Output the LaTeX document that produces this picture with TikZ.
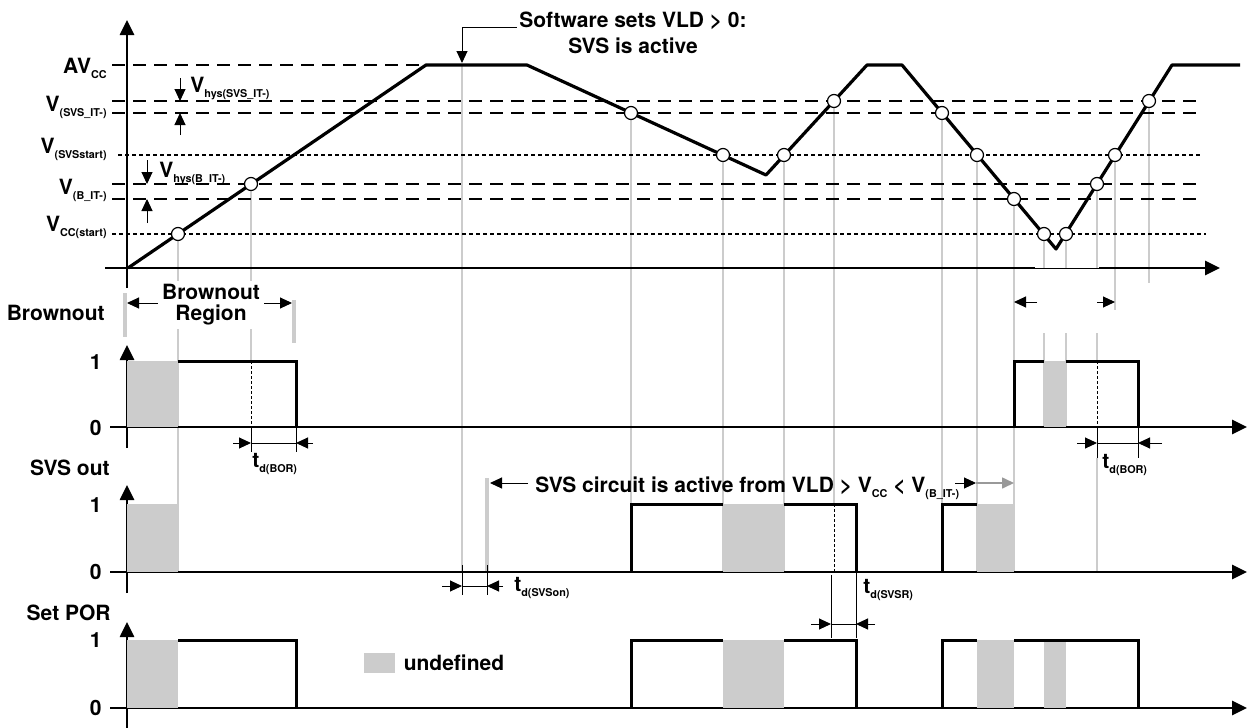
\documentclass[tikz,border=0pt]{standalone}
\usepackage{fontspec}
\setmainfont{TeX Gyre Heros}
\usetikzlibrary{arrows.meta,positioning}
\newcommand{\lsub}[1]{\raisebox{-0.45ex}{\fontsize{5.4}{6}\selectfont #1}}
\tikzset{
	-tri/.style={-{Triangle[length=6pt,width=5.5pt]}},
	-big/.style={-{Triangle[length=7.5pt,width=7pt]}},
	axis/.style={line width=1.3pt},
	wave/.style={line width=1.6pt,line join=round},
	sig/.style={line width=1.5pt},
	level/.style={line width=0.9pt,dash pattern=on 6.5pt off 4pt},
	fine/.style={line width=0.6pt,dash pattern=on 2pt off 1.5pt},
	guide/.style={draw=black!20,line width=1pt},
	undef/.style={fill=black!20},
	dot/.style={circle,draw,fill=white,inner sep=0pt,minimum size=6.5pt,line width=0.6pt},
	lbl/.style={font=\fontsize{10.5}{13}\selectfont\bfseries,inner sep=1pt},
	dim/.style={line width=0.5pt},
	tick/.style={line width=0.5pt,dash pattern=on 1.5pt off 1pt}
}
\begin{document}
\begin{tikzpicture}[x=0.5pt,y=-0.5pt]
\useasboundingbox (0,0) rectangle (1248,728);
% guides from the crossings
\foreach \x/\a/\b in {178/234/572, 251/184/361, 462/65/572, 631/113/572, 723/155/572,
    784/155/572, 834/101/504, 942/113/572, 977/155/572, 1014/199/572, 1044/234/268,
    1066/234/268, 1044/333/427, 1066/333/427, 1097/184/268, 1097/333/361, 1097/458/572,
    1115/155/310, 1149/101/283}
  \draw[guide] (\x,\a) -- (\x,\b);
\draw[guide,line width=1.8pt] (125,293) -- (125,337) (294,300) -- (294,343) (487,478) -- (487,572);

% thresholds
\draw[level] (112,65) -- (430,65);
\foreach \y in {101,113,184,199}
  \draw[level] (112,\y) -- (1202,\y);
\draw[fine] (118,155) -- (1203,155);
\draw[fine] (112,234) -- (1206,234);
\node[lbl,anchor=base east] (avcc) at (109,73) {AV\lsub{CC}};
\node[lbl,anchor=base east] (vsvs) at (109,111) {V\lsub{(SVS\_IT-)}};
\node[lbl,anchor=base east] (vsvsst) at (109,153) {V\lsub{(SVSstart)}};
\node[lbl,anchor=base east] (vbit) at (109,194) {V\lsub{(B\_IT-)}};
\node[lbl,anchor=base east] (vccst) at (109,231) {V\lsub{CC(start)}};
\draw[dim,-tri] (180,78) -- (180,101);
\draw[dim,-tri] (180,135) -- (180,113);
\node[lbl,anchor=base west] (hyssvs) at (188,92) {V\lsub{hys(SVS\_IT-)}};
\draw[dim,-tri] (147,160) -- (147,184);
\draw[dim,-tri] (147,223) -- (147,199);
\node[lbl,anchor=base west] (hysb) at (157,177) {V\lsub{hys(B\_IT-)}};

% supply voltage
\draw[axis,-big] (127,288) -- (127,20);
\draw[axis] (105,268) -- (1035,268);
\draw[dim] (1035,268) -- (1099,268);
\draw[axis,-big] (1099,268) -- (1220,268);
\draw[wave] (128,268) -- (426,65) -- (527,65) -- (766,175) -- (867,65) -- (902,65)
  -- (1056,249) -- (1172,65) -- (1240,65);
\foreach \x/\y [count=\i] in {178/234, 251/184, 631/113, 723/155, 784/155, 834/101,
    942/113, 977/155, 1014/199, 1044/234, 1066/234, 1097/184, 1115/155, 1149/101}
  \node[dot] (c\i) at (\x,\y) {};
\node[lbl,align=center] (sw) at (633,33) {Software sets VLD > 0:\\SVS is active};
\coordinate (swk) at (462,27);
\draw[dim,-tri] (sw.west |- swk) -- (swk) -- (462,63);

% Brownout
\draw[dim,-tri] (210,303) -- (127,303);
\draw[dim,-tri] (210,303) -- (292,303);
\node[lbl,align=center,fill=white,inner sep=2pt,font=\fontsize{10.5}{10.5}\selectfont\bfseries] (bor) at (211,305) {Brownout\\Region};
\draw[dim,-tri] (1037,302) -- (1014,302);
\draw[dim,-tri] (1097,302) -- (1115,302);
\node[lbl,anchor=base east] (brn) at (107,320) {Brownout};
\draw[axis,-big] (127,448) -- (127,345);
\draw[axis,-big] (110,427) -- (1247,427);
\node[lbl,anchor=east] (b1) at (104,362) {1};
\node[lbl,anchor=east] (b0) at (104,428) {0};
\fill[undef] (127,361) rectangle (178,427);
\draw[sig] (178,361) -- (296,361) -- (296,427);
\draw[tick] (251,361) -- (251,427);
\draw[dim] (251,427) -- (251,452) (296,427) -- (296,452) (251,443) -- (296,443);
\draw[dim,-tri] (233,443) -- (251,443);
\draw[dim,-tri] (313,443) -- (296,443);
\node[lbl,anchor=base west] (tbor) at (250,467) {t\lsub{d(BOR)}};
\fill[undef] (1044,361) rectangle (1066,427);
\draw[sig] (1014,427) -- (1014,361) -- (1044,361) (1066,361) -- (1138,361) -- (1138,427);
\draw[tick] (1097,361) -- (1097,427);
\draw[dim] (1097,427) -- (1097,458) (1138,427) -- (1138,458) (1097,443) -- (1138,443);
\draw[dim,-tri] (1077,443) -- (1097,443);
\draw[dim,-tri] (1162,443) -- (1138,443);
\node[lbl,anchor=base west] (tbor2) at (1100,468) {t\lsub{d(BOR)}};

% SVS out
\node[lbl,anchor=base east] (svs) at (112,475) {SVS out};
\draw[axis,-big] (127,593) -- (127,485);
\draw[axis,-big] (110,572) -- (1247,572);
\node[lbl,anchor=east] (s1) at (104,505) {1};
\node[lbl,anchor=east] (s0) at (104,572) {0};
\fill[undef] (127,504) rectangle (178,572);
\fill[undef] (723,504) rectangle (784,572);
\draw[sig] (631,572) -- (631,504) -- (723,504) (784,504) -- (856,504) -- (856,572);
\draw[tick] (834,504) -- (834,572);
\fill[undef] (977,504) rectangle (1014,572);
\draw[sig] (942,572) -- (942,504) -- (977,504);
\node[lbl,anchor=base west] (act) at (533,492) {SVS circuit is active from VLD > V\lsub{CC} < V\lsub{(B\_IT-)}};
\draw[dim,-tri] (528,483) -- (490,483);
\draw[dim,-tri] (955,483) -- (976,483);
\draw[black!40,line width=0.8pt,-tri] (976,483) -- (1014,483);
\draw[dim] (462,565) -- (462,595) (487,565) -- (487,595) (462,586) -- (487,586);
\draw[dim,-tri] (442,586) -- (462,586);
\draw[dim,-tri] (503,586) -- (487,586);
\node[lbl,anchor=west] (tsvson) at (512,588) {t\lsub{d(SVSon)}};
\draw[dim] (831,575) -- (831,638) (856,572) -- (856,638) (831,624) -- (856,624);
\draw[dim,-tri] (811,624) -- (831,624);
\draw[dim,-tri] (875,624) -- (856,624);
\node[lbl,anchor=west] (tsvsr) at (861,590) {t\lsub{d(SVSR)}};

% Set POR
\node[lbl,anchor=base east] (por) at (113,620) {Set POR};
\draw[axis,-big] (127,728) -- (127,622);
\draw[axis,-big] (110,708) -- (1247,708);
\node[lbl,anchor=east] (p1) at (104,640) {1};
\node[lbl,anchor=east] (p0) at (104,708) {0};
\fill[undef] (127,640) rectangle (178,708);
\draw[sig] (178,640) -- (296,640) -- (296,708);
\fill[undef] (723,640) rectangle (784,708);
\draw[sig] (631,708) -- (631,640) -- (723,640) (784,640) -- (856,640) -- (856,708);
\fill[undef] (977,640) rectangle (1014,708);
\fill[undef] (1044,641) rectangle (1066,708);
\draw[sig] (942,708) -- (942,640) -- (977,640) (1014,640) -- (1138,640) -- (1138,708);
\node[undef,minimum width=15.5pt,minimum height=10pt,inner sep=0pt] (leg) at (379.5,663) {};
\node[lbl,right=3pt of leg] (legtxt) {undefined};
\end{tikzpicture}
\end{document}
